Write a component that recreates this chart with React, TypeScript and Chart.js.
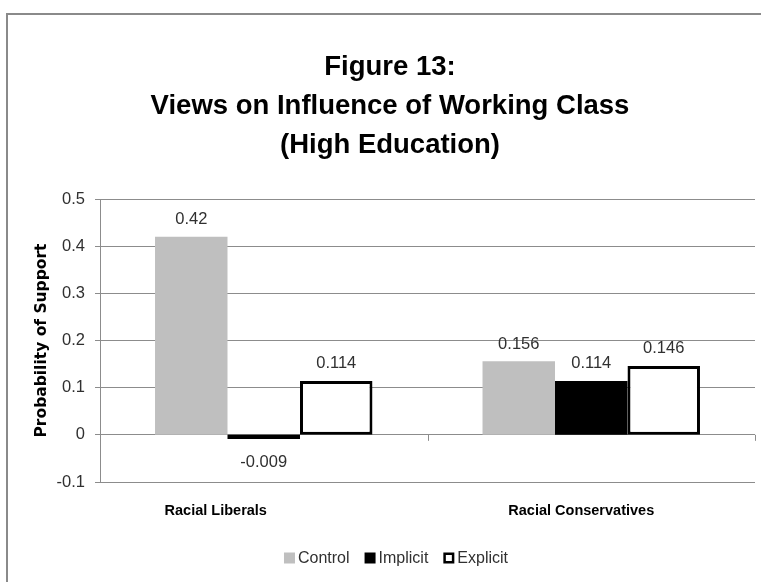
import React, { useEffect, useRef } from "react";
import { Chart, registerables } from "chart.js";

Chart.register(...registerables);

const categories = ["Racial Liberals", "Racial Conservatives"];
const seriesNames = ["Control", "Implicit", "Explicit"];
const controlValues = [0.42, 0.156];
const implicitValues = [-0.009, 0.114];
const explicitValues = [0.114, 0.146];
const titleLines = ["Figure 13:", "Views on Influence of Working Class", "(High Education)"];
const yAxisTitle = "Probability of Support";
const yMin = -0.1;
const yMax = 0.5;
const yStep = 0.1;

const FONT = "'Liberation Sans', Arial, sans-serif";
const GRID = "#8c8c8c";
const TEXT = "#303030";

const decorPlugin = {
  id: "decor",
  beforeDraw(chart: any) {
    const ctx = chart.ctx;
    ctx.save();
    ctx.fillStyle = "#ffffff";
    ctx.fillRect(0, 0, chart.width, chart.height);
    ctx.strokeStyle = "#8a8a8a";
    ctx.lineWidth = 2;
    ctx.strokeRect(7, 14, chart.width + 20, chart.height + 20);
    ctx.restore();
  },
  afterDatasetsDraw(chart: any) {
    const ctx = chart.ctx;
    ctx.save();
    // data labels
    ctx.font = `16.5px ${FONT}`;
    ctx.fillStyle = TEXT;
    ctx.textAlign = "center";
    chart.data.datasets.forEach((ds: any, di: number) => {
      const meta = chart.getDatasetMeta(di);
      meta.data.forEach((el: any, i: number) => {
        const v = ds.data[i];
        const txt = String(v);
        if (v >= 0) {
          ctx.textBaseline = "bottom";
          ctx.fillText(txt, el.x, el.y - 9);
        } else {
          ctx.textBaseline = "top";
          ctx.fillText(txt, el.x, el.y + 15);
        }
      });
    });
    // category tick marks at zero line
    const xs = chart.scales.x;
    const ys = chart.scales.y;
    const y0 = ys.getPixelForValue(0);
    ctx.strokeStyle = GRID;
    ctx.lineWidth = 1;
    const n = categories.length;
    for (let k = 0; k <= n; k++) {
      const x = Math.round(xs.left + ((xs.right - xs.left) * k) / n) + 0.5;
      ctx.beginPath();
      ctx.moveTo(x, y0);
      ctx.lineTo(x, y0 + 6);
      ctx.stroke();
    }
    // category labels (shifted left as in the original layout)
    const shifts = [-48, -10];
    ctx.fillStyle = "#000000";
    ctx.font = `bold 14.5px ${FONT}`;
    ctx.textAlign = "center";
    ctx.textBaseline = "middle";
    categories.forEach((c, i) => {
      ctx.fillText(c, xs.getPixelForValue(i) + shifts[i], ys.bottom + 29);
    });
    ctx.restore();
  },
  afterDraw(chart: any) {
    const ctx = chart.ctx;
    ctx.save();
    // title
    ctx.fillStyle = "#000000";
    ctx.font = `bold 27.5px ${FONT}`;
    ctx.textAlign = "center";
    ctx.textBaseline = "middle";
    titleLines.forEach((line, i) => {
      ctx.fillText(line, 390, 67 + i * 39);
    });
    // legend
    ctx.font = `16px ${FONT}`;
    ctx.textBaseline = "middle";
    ctx.textAlign = "left";
    const colors = chart.data.datasets.map((d: any) => d.backgroundColor);
    const borders = chart.data.datasets.map((d: any) => d.borderColor);
    const bws = chart.data.datasets.map((d: any) => d.borderWidth);
    const box = 11;
    const gap = 3;
    const spacing = 15;
    const widths = seriesNames.map((s) => box + gap + ctx.measureText(s).width);
    const total = widths.reduce((a, b) => a + b, 0) + spacing * (seriesNames.length - 1);
    let x = 396 - total / 2;
    const ly = 558;
    seriesNames.forEach((s, i) => {
      ctx.fillStyle = colors[i];
      ctx.fillRect(x, ly - box / 2, box, box);
      if (bws[i] > 0) {
        ctx.strokeStyle = borders[i];
        ctx.lineWidth = 2.5;
        ctx.strokeRect(x + 1.25, ly - box / 2 + 1.25, box - 2.5, box - 2.5);
      }
      ctx.fillStyle = TEXT;
      ctx.fillText(s, x + box + gap, ly + 1);
      x += widths[i] + spacing;
    });
    ctx.restore();
  },
};

export default function App() {
  const ref = useRef<HTMLCanvasElement>(null);
  useEffect(() => {
    if (!ref.current) return;
    const chart = new Chart(ref.current, {
      type: "bar",
      data: {
        labels: categories,
        datasets: [
          {
            label: seriesNames[0],
            data: controlValues,
            backgroundColor: "#bfbfbf",
            borderColor: "#bfbfbf",
            borderWidth: 0,
          },
          {
            label: seriesNames[1],
            data: implicitValues,
            backgroundColor: "#000000",
            borderColor: "#000000",
            borderWidth: 0,
          },
          {
            label: seriesNames[2],
            data: explicitValues,
            backgroundColor: "#ffffff",
            borderColor: "#000000",
            borderWidth: 3,
            borderSkipped: false,
          },
        ],
      },
      options: {
        responsive: false,
        animation: false,
        devicePixelRatio: 1,
        layout: { padding: { left: 33, right: 6, top: 199, bottom: 60 } },
        datasets: {
          bar: { categoryPercentage: 0.664, barPercentage: 1.0 },
        },
        plugins: {
          legend: { display: false },
          title: { display: false },
          tooltip: { enabled: false },
        },
        scales: {
          x: {
            afterFit(scale: any) {
              scale.height = 40;
            },
            grid: { display: false, drawTicks: false },
            border: { display: false },
            ticks: { display: false },
          },
          y: {
            min: yMin,
            max: yMax,
            afterFit(scale: any) {
              scale.width = 67;
            },
            ticks: {
              stepSize: yStep,
              padding: 10,
              color: TEXT,
              font: { family: FONT, size: 16.5 },
              callback: (v: any) => String(Math.round(Number(v) * 10) / 10),
            },
            grid: { color: GRID, lineWidth: 1, tickLength: 5 },
            border: { color: GRID, width: 1 },
            title: {
              display: true,
              text: yAxisTitle,
              color: "#000000",
              font: { family: "'DejaVu Sans', sans-serif", size: 15.5, weight: "bold" },
              padding: { top: 0, bottom: 0 },
            },
          },
        },
      },
      plugins: [decorPlugin],
    } as any);
    return () => chart.destroy();
  }, []);
  return (
    <div style={{ position: "absolute", left: 0, top: 0, width: 761, height: 582 }}>
      <canvas ref={ref} width={761} height={582} style={{ width: 761, height: 582 }} />
    </div>
  );
}
